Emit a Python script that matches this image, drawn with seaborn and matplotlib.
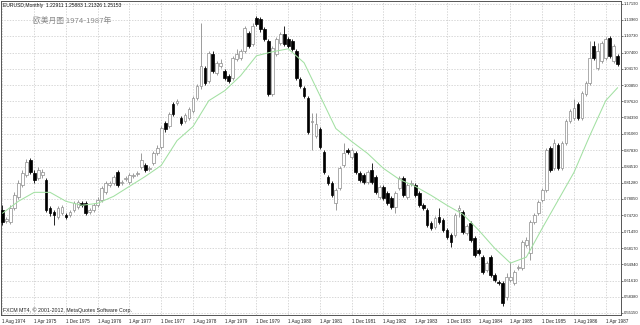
import numpy as np
import pandas as pd
import matplotlib
matplotlib.use("Agg")
import matplotlib.pyplot as plt
import seaborn as sns

# ---------------- data (EURUSD monthly, Aug 1974 - Jul 1987) ----------------
opens = [0.7575, 0.7355, 0.7335, 0.7615, 0.7835, 0.8075, 0.8275, 0.8575, 0.8315, 0.8215,
         0.8275, 0.8175, 0.7615, 0.7535, 0.7435, 0.7515, 0.7475, 0.7475, 0.7575, 0.7635,
         0.7715, 0.7715, 0.7535, 0.7575, 0.7675, 0.7775, 0.7935, 0.8075, 0.8115, 0.8335,
         0.8115, 0.8195, 0.8135, 0.8255, 0.8295, 0.8435, 0.8475, 0.8395, 0.8515, 0.8715,
         0.8835, 0.9335, 0.9275, 0.9715, 0.9735, 0.9435, 0.9375, 0.9435, 0.9575, 0.9835,
         1.0075, 1.0435, 1.0175, 1.0715, 1.0335, 1.0475, 1.0375, 1.0275, 1.0235, 1.0615,
         1.0635, 1.0775, 1.1135, 1.0915, 1.1435, 1.1415, 1.1215, 1.0975, 0.9915, 1.0715,
         1.0935, 1.1115, 1.1015, 1.0975, 1.0775, 1.0215, 1.0035, 0.9835, 0.9355, 0.9075,
         0.9215, 0.8735, 0.8235, 0.8115, 0.7715, 0.8015, 0.8475, 0.8775, 0.8635, 0.8715,
         0.8315, 0.8275, 0.8135, 0.8375, 0.8235, 0.7835, 0.8035, 0.7915, 0.7815, 0.7635,
         0.8015, 0.8215, 0.7835, 0.8095, 0.8075, 0.7915, 0.7675, 0.7575, 0.7315, 0.7235,
         0.7435, 0.7375, 0.7175, 0.7075, 0.7075, 0.7575, 0.7535, 0.7115, 0.7315, 0.7015,
         0.6775, 0.6635, 0.6375, 0.6635, 0.6275, 0.6135, 0.6115, 0.5835, 0.6175, 0.6115,
         0.6415, 0.6415, 0.6875, 0.6715, 0.7335, 0.7515, 0.7775, 0.7975, 0.8815, 0.8415,
         0.8875, 0.8415, 0.8915, 0.9375, 0.9435, 0.9715, 0.9435, 0.9915, 1.0135, 1.0875,
         1.0435, 1.0575, 1.0635, 1.1035, 1.0575, 1.0675]
highs = [0.7675, 0.7435, 0.7675, 0.7935, 0.8175, 0.8375, 0.8595, 0.8615, 0.8375, 0.8435,
         0.8395, 0.8215, 0.7655, 0.7575, 0.7655, 0.7675, 0.7515, 0.7575, 0.7755, 0.7775,
         0.7755, 0.7755, 0.7615, 0.7715, 0.7835, 0.8055, 0.8155, 0.8155, 0.8275, 0.8375,
         0.8175, 0.8255, 0.8315, 0.8315, 0.8355, 0.8715, 0.8515, 0.8455, 0.8755, 0.8875,
         0.9275, 0.9375, 0.9555, 0.9755, 0.9815, 0.9475, 0.9535, 0.9655, 0.9875, 1.0115,
         1.1335, 1.0475, 1.0775, 1.0775, 1.0575, 1.0615, 1.0415, 1.0315, 1.0675, 1.0815,
         1.0815, 1.1275, 1.1175, 1.1335, 1.1475, 1.1455, 1.1255, 1.1015, 1.0875, 1.1055,
         1.1155, 1.1275, 1.1055, 1.1015, 1.0815, 1.0255, 1.0075, 0.9875, 0.9535, 0.9535,
         0.9255, 0.8775, 0.8275, 0.8155, 0.8015, 0.8455, 0.8915, 0.8815, 0.8815, 0.8755,
         0.8355, 0.8315, 0.8375, 0.8515, 0.8275, 0.8075, 0.8075, 0.7955, 0.7855, 0.7955,
         0.8255, 0.8255, 0.8115, 0.8175, 0.8115, 0.7955, 0.7715, 0.7615, 0.7355, 0.7455,
         0.7615, 0.7415, 0.7215, 0.7115, 0.7515, 0.7675, 0.7575, 0.7295, 0.7355, 0.7055,
         0.6815, 0.6675, 0.6555, 0.6675, 0.6315, 0.6175, 0.6155, 0.6315, 0.6535, 0.6375,
         0.6475, 0.6975, 0.7035, 0.7375, 0.7515, 0.7775, 0.8015, 0.8815, 0.8855, 0.9015,
         0.8915, 0.8975, 0.9415, 0.9615, 0.9815, 0.9755, 0.9975, 1.0175, 1.0975, 1.0975,
         1.0935, 1.0975, 1.1055, 1.1075, 1.0915, 1.0715]
lows = [0.7275, 0.7315, 0.7295, 0.7575, 0.7795, 0.8035, 0.8235, 0.8295, 0.8115, 0.8175,
        0.8215, 0.7535, 0.7455, 0.7275, 0.7395, 0.7475, 0.7395, 0.7435, 0.7535, 0.7595,
        0.7635, 0.7475, 0.7495, 0.7535, 0.7635, 0.7735, 0.7895, 0.8035, 0.8075, 0.8035,
        0.8075, 0.8155, 0.8095, 0.8215, 0.8255, 0.8395, 0.8335, 0.8355, 0.8475, 0.8675,
        0.8795, 0.9155, 0.9235, 0.9475, 0.9695, 0.9295, 0.9335, 0.9395, 0.9535, 0.9795,
        1.0015, 1.0095, 1.0135, 1.0335, 1.0295, 1.0435, 1.0195, 1.0135, 1.0195, 1.0575,
        1.0595, 1.0735, 1.0835, 1.0875, 1.1275, 1.1155, 1.0975, 0.9875, 0.9875, 1.0675,
        1.0895, 1.0875, 1.0835, 1.0775, 1.0195, 1.0035, 0.9835, 0.9115, 0.8775, 0.9035,
        0.8795, 0.8295, 0.8075, 0.7835, 0.7575, 0.7975, 0.8435, 0.8695, 0.8595, 0.8295,
        0.8135, 0.8095, 0.8095, 0.8095, 0.7895, 0.7795, 0.7775, 0.7675, 0.7595, 0.7515,
        0.7975, 0.7835, 0.7795, 0.8055, 0.7835, 0.7635, 0.7575, 0.7235, 0.7175, 0.7195,
        0.7295, 0.7135, 0.6995, 0.6835, 0.7035, 0.7435, 0.7095, 0.7075, 0.6935, 0.6635,
        0.6675, 0.6295, 0.6335, 0.6235, 0.6135, 0.6075, 0.5655, 0.5775, 0.6135, 0.6075,
        0.6375, 0.6375, 0.6835, 0.6575, 0.7295, 0.7475, 0.7735, 0.7935, 0.8335, 0.8375,
        0.8375, 0.8375, 0.8875, 0.9335, 0.9395, 0.9395, 0.9395, 0.9875, 1.0095, 1.0595,
        1.0395, 1.0535, 1.0595, 1.0635, 1.0535, 1.0475]
closes = [0.7335, 0.7395, 0.7615, 0.7875, 0.8115, 0.8315, 0.8535, 0.8335, 0.8175, 0.8375,
          0.8335, 0.7575, 0.7515, 0.7475, 0.7615, 0.7635, 0.7435, 0.7535, 0.7715, 0.7735,
          0.7675, 0.7515, 0.7575, 0.7675, 0.7775, 0.8015, 0.8115, 0.8115, 0.8235, 0.8075,
          0.8135, 0.8215, 0.8275, 0.8275, 0.8315, 0.8575, 0.8375, 0.8415, 0.8715, 0.8815,
          0.9235, 0.9215, 0.9515, 0.9515, 0.9775, 0.9335, 0.9495, 0.9615, 0.9835, 1.0075,
          1.0475, 1.0135, 1.0735, 1.0375, 1.0535, 1.0535, 1.0235, 1.0175, 1.0635, 1.0715,
          1.0775, 1.1235, 1.0875, 1.1275, 1.1315, 1.1215, 1.1015, 0.9915, 1.0835, 1.1015,
          1.1115, 1.0915, 1.0875, 1.0815, 1.0235, 1.0075, 0.9875, 0.9155, 0.9375, 0.9315,
          0.8835, 0.8335, 0.8115, 0.7875, 0.7975, 0.8415, 0.8715, 0.8735, 0.8775, 0.8335,
          0.8175, 0.8135, 0.8335, 0.8135, 0.7935, 0.8035, 0.7815, 0.7715, 0.7635, 0.7915,
          0.8215, 0.7875, 0.8075, 0.8115, 0.7875, 0.7675, 0.7615, 0.7275, 0.7215, 0.7415,
          0.7335, 0.7175, 0.7035, 0.6935, 0.7475, 0.7615, 0.7135, 0.7255, 0.6975, 0.6675,
          0.6715, 0.6335, 0.6515, 0.6275, 0.6175, 0.6115, 0.5715, 0.6235, 0.6235, 0.6335,
          0.6435, 0.6935, 0.6975, 0.7335, 0.7475, 0.7735, 0.7975, 0.8775, 0.8375, 0.8915,
          0.8415, 0.8935, 0.9375, 0.9575, 0.9635, 0.9435, 0.9935, 1.0135, 1.0635, 1.0635,
          1.0775, 1.0935, 1.1015, 1.0675, 1.0875, 1.0515]

# moving-average line at every 4th bar
ma_bar = [0, 4, 8, 12, 16, 20, 24, 28, 32, 36, 40, 44, 48, 52, 56, 60, 64, 68, 72, 76,
          80, 84, 88, 92, 96, 100, 104, 108, 112, 116, 120, 124, 128, 132, 136, 140, 144,
          148, 152, 155]
ma_vals = [0.7515, 0.7755, 0.7935, 0.7935, 0.7755, 0.7675, 0.7715, 0.7855, 0.8055, 0.8255,
           0.8475, 0.8975, 0.9255, 0.9775, 0.9975, 1.0275, 1.0675, 1.0755, 1.0815, 1.0535,
           0.9875, 0.9215, 0.8955, 0.8715, 0.8415, 0.8195, 0.8055, 0.7875, 0.7675, 0.7495,
           0.7175, 0.6815, 0.6515, 0.6635, 0.7215, 0.7775, 0.8335, 0.9075, 0.9775, 1.0035]

x_tick_bars = [0, 8, 16, 24, 32, 40, 48, 56, 64, 72, 80, 88, 96, 104, 112, 120, 128, 136, 144, 152]
x_tick_labels = ["1 Aug 1974", "1 Apr 1975", "1 Dec 1975", "1 Aug 1976", "1 Apr 1977",
                 "1 Dec 1977", "1 Aug 1978", "1 Apr 1979", "1 Dec 1979", "1 Aug 1980",
                 "1 Apr 1981", "1 Dec 1981", "1 Aug 1982", "1 Apr 1983", "1 Dec 1983",
                 "1 Aug 1984", "1 Apr 1985", "1 Dec 1985", "1 Aug 1986", "1 Apr 1987"]
y_tick_values = [1.17190, 1.13960, 1.10730, 1.07400, 1.04170, 1.00850, 0.97620, 0.94390,
                 0.91060, 0.87830, 0.84510, 0.81280, 0.78050, 0.74720, 0.71490, 0.68170,
                 0.64940, 0.61610, 0.58380, 0.55150]

header_text = "EURUSD,Monthly  1.22911 1.25883 1.21326 1.25153"
title_text = "欧美月图 1974-1987年"
footer_text = "FXCM MT4, © 2001-2012, MetaQuotes Software Corp."

# ---------------- plotting ----------------
sns.set_theme(style="white")
plt.rcParams["font.family"] = ["Liberation Sans", "DejaVu Sans"]

df = pd.DataFrame({"bar": np.arange(len(opens)), "open": opens, "high": highs,
                   "low": lows, "close": closes})
df["up"] = df["close"] >= df["open"]
df["body_lo"] = df[["open", "close"]].min(axis=1)
df["body_h"] = np.maximum((df["close"] - df["open"]).abs(), 0.0018)

fig = plt.figure(figsize=(6.4, 3.25), dpi=100)
fig.patch.set_facecolor("white")
ax = fig.add_axes([0.002, 0.031, 0.968, 0.966])
ax.set_facecolor("white")

up_col = "#8c8c8c"
dn_col = "#000000"
wick_cols = np.where(df["up"], up_col, dn_col)
ax.vlines(df["bar"], df["low"], df["high"], colors=wick_cols, linewidth=0.6, zorder=2)
ax.bar(df["bar"], df["body_h"], bottom=df["body_lo"], width=0.68,
       color=np.where(df["up"], "white", "black"),
       edgecolor=np.where(df["up"], up_col, dn_col), linewidth=0.5, zorder=3)

sns.lineplot(x=ma_bar, y=ma_vals, ax=ax, color="#a2e0a2", linewidth=0.75, zorder=4)

ax.set_xlim(-0.3, 155.8)
ax.set_ylim(1.1775 - 315 * 0.002, 1.1775)

ax.set_xticks(x_tick_bars)
ax.set_xticklabels(x_tick_labels, ha="left", fontsize=3.3, color="#222222")
ax.set_yticks(y_tick_values)
ax.set_yticklabels([f"{v:.5f}" for v in y_tick_values], fontsize=3.0, color="#222222")
ax.yaxis.tick_right()
ax.tick_params(axis="both", which="both", length=1.5, width=0.5, color="#444444", pad=0.8,
               direction="out")
ax.tick_params(axis="x", pad=1.2)
ax.set_xlabel("")
ax.set_ylabel("")

ax.grid(True, color="#c8c8c8", linestyle=(0, (2, 2)), linewidth=0.5)
ax.set_axisbelow(True)
for s in ax.spines.values():
    s.set_color("#555555")
    s.set_linewidth(0.7)
    s.set_visible(True)

fig.text(3 / 640, 1 - 5 / 325, header_text, fontsize=3.6, color="#111111",
         va="center", ha="left")
fig.text(33 / 640, 1 - 21 / 325, title_text, fontsize=5.6, color="#8a8a8a",
         va="center", ha="left", family=["Noto Sans CJK SC", "DejaVu Sans"])
fig.text(3 / 640, 1 - 310 / 325, footer_text, fontsize=3.8, color="#222222",
         va="center", ha="left")

fig.savefig("out.png", dpi=100, facecolor="white")
